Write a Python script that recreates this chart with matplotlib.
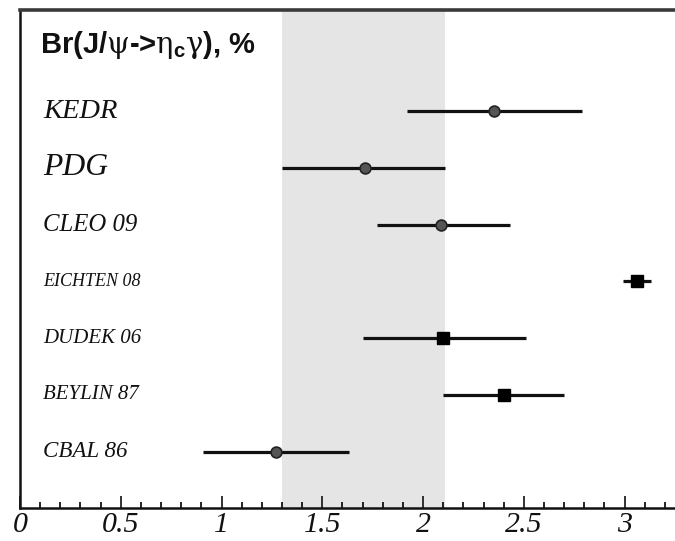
import matplotlib
matplotlib.use("Agg")
import matplotlib.pyplot as plt
from matplotlib.ticker import MultipleLocator

# Measurements of Br(J/psi -> eta_c gamma), in %
experiments = ["KEDR", "PDG", "CLEO 09", "EICHTEN 08", "DUDEK 06", "BEYLIN 87", "CBAL 86"]
values = [2.35, 1.71, 2.09, 3.06, 2.10, 2.40, 1.27]
err_low = [0.43, 0.41, 0.32, 0.07, 0.40, 0.30, 0.36]
err_high = [0.44, 0.40, 0.34, 0.07, 0.41, 0.30, 0.36]
is_theory = [False, False, False, True, True, True, False]
label_sizes = [20.5, 22.8, 17.8, 13, 15, 15, 16.6]
tick_values = [0, 0.5, 1, 1.5, 2, 2.5, 3]
tick_labels = ["0", "0.5", "1", "1.5", "2", "2.5", "3"]

# world-average band (PDG)
band_low, band_high = 1.30, 2.11

plt.rcParams["mathtext.fontset"] = "custom"
plt.rcParams["mathtext.it"] = "DejaVu Serif"
plt.rcParams["mathtext.rm"] = "Liberation Sans:bold"
plt.rcParams["mathtext.bf"] = "Liberation Sans:bold"

fig = plt.figure(figsize=(6.75, 5.41), dpi=100)
ax = fig.add_axes([20 / 675, 33 / 541, 655 / 675, 498 / 541])

ax.axvspan(band_low, band_high, color="#e5e5e5", lw=0, zorder=0)

rows = list(range(len(experiments)))
for y, v, lo, hi, th in zip(rows, values, err_low, err_high, is_theory):
    ax.plot([v - lo, v + hi], [y, y], color="#111111", lw=2.3,
            solid_capstyle="butt", zorder=2)
    if th:
        ax.plot(v, y, marker="s", ms=8, color="black", mec="black", zorder=3)
    else:
        ax.plot(v, y, marker="o", ms=7.8, color="#555555", mec="#222222",
                mew=1.2, zorder=3)

for y, name, fs in zip(rows, experiments, label_sizes):
    ax.text(0.035, y, name, transform=ax.get_yaxis_transform(), ha="left",
            va="center", fontsize=fs, fontstyle="italic",
            family="Liberation Serif", color="#111111")

ax.text(0.03, 0.93, r"Br(J/$\psi$->$\eta_{\rm c}\gamma$), %",
        transform=ax.transAxes, ha="left", va="center", fontsize=21,
        family="Liberation Sans", weight="bold", color="#111111")

ax.set_xlim(0, 3.25)
ax.set_ylim(6.99, -1.78)

ax.xaxis.set_minor_locator(MultipleLocator(0.1))
ax.set_xticks(tick_values)
ax.set_xticklabels(tick_labels, family="Liberation Serif",
                   fontstyle="italic", fontsize=21.5)
ax.tick_params(axis="x", which="major", direction="in", length=9, width=1.2,
               pad=3, colors="#111111")
ax.tick_params(axis="x", which="minor", direction="in", length=4.5, width=1.2)
ax.set_yticks([])

ax.spines["right"].set_visible(False)
ax.spines["top"].set_linewidth(2.6)
ax.spines["top"].set_color("#3a3a3a")
ax.spines["left"].set_linewidth(1.8)
ax.spines["bottom"].set_linewidth(1.8)
ax.spines["left"].set_color("#111111")
ax.spines["bottom"].set_color("#111111")

fig.savefig("out.png", dpi=100)
